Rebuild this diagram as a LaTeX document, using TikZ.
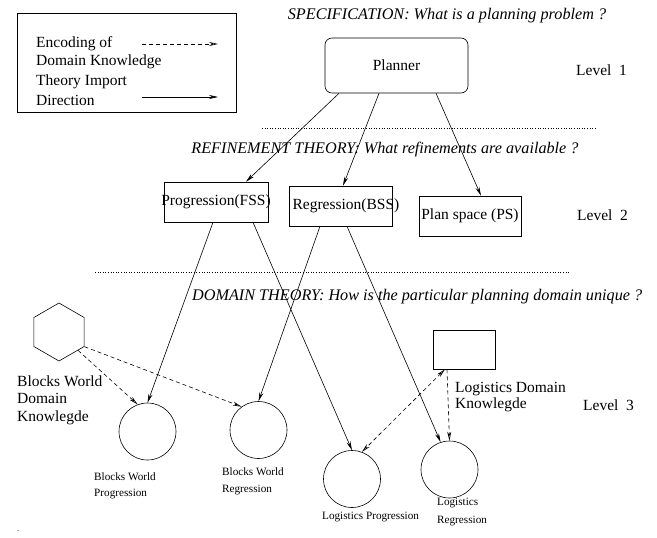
\documentclass[tikz,border=0pt]{standalone}
\usepackage{fontspec}
\setmainfont{Liberation Serif}
\usetikzlibrary{arrows.meta,calc,shapes.geometric}
\begin{document}
\begin{tikzpicture}[x=1pt,y=-1pt,
  big/.style={font=\fontsize{15.5}{18}\selectfont},
  txt/.style={inner sep=0pt},
  small/.style={font=\fontsize{11.2}{16.5}\selectfont, inner sep=0pt},
  ttl/.style={font=\fontsize{16.2}{18}\selectfont\itshape, inner sep=0pt},
  boxn/.style={draw, line width=0.6pt, inner sep=0pt},
  circ/.style={draw, circle, line width=0.6pt, minimum size=57pt, inner sep=0pt},
  imp/.style={line width=0.6pt, -{Stealth[length=9pt,width=4pt,inset=3pt]}},
  enc/.style={line width=0.6pt, dash pattern=on 4pt off 3pt, -{Stealth[length=9pt,width=4pt,open]}},
  encb/.style={line width=0.6pt, dash pattern=on 4pt off 3pt, {Stealth[length=9pt,width=4pt,open]}-{Stealth[length=9pt,width=4pt,open]}},
  sep/.style={line width=0.6pt, dotted},
]
\useasboundingbox (0,0) rectangle (657,538);

% legend
\node[boxn, minimum width=219pt, minimum height=99pt] (legend) at (126.5,62.5) {};
\node[big, txt, anchor=west] (l1) at (36,44) {Encoding of};
\node[big, txt, anchor=west] (l2) at (36,62) {Domain Knowledge};
\node[big, txt, anchor=west] (l3) at (36,82) {Theory Import};
\node[big, txt, anchor=west] (l4) at (36,100) {Direction};
\coordinate (e1) at (142,44); \coordinate (e2) at (218,44);
\draw[enc] (e1) -- (e2);
\coordinate (t1) at (142,97); \coordinate (t2) at (218,97);
\draw[imp] (t1) -- (t2);

% titles
\node[ttl] (spec) at (447,16) {SPECIFICATION: What is a planning problem ?};
\node[ttl] (refn) at (385,150) {REFINEMENT THEORY: What refinements are available ?};
\node[ttl, anchor=west] (domt) at (192,297) {DOMAIN THEORY: How is the particular planning domain unique ?};

% separators
\coordinate (d1a) at (262,128); \coordinate (d1b) at (595,128);
\coordinate (d2a) at (95,272); \coordinate (d2b) at (570,272);
\draw[sep] (d1a) -- (d1b);
\draw[sep] (d2a) -- (d2b);

% level 1
\node[boxn, big, rounded corners=7pt, minimum width=143pt, minimum height=55pt] (planner) at (396.5,65.5) {Planner};
\node[big, txt, anchor=west] (lev1) at (576,70) {Level\ \ 1};

% level 2
\node[boxn, big, minimum width=104pt, minimum height=40pt] (prog) at (216,202) {\makebox[0pt]{Progression(FSS)}};
\node[boxn, big, minimum width=103pt, minimum height=40pt] (regr) at (340.5,206) {\makebox[0pt]{\hspace{11pt}Regression(BSS)}};
\node[boxn, big, minimum width=102pt, minimum height=40pt] (ps) at (470,216) {\makebox[0pt]{Plan space (PS)}};
\node[big, txt, anchor=west] (lev2) at (577,215) {Level\ \ 2};

% level 3
\node[draw, regular polygon, regular polygon sides=6, shape border rotate=30, minimum size=58pt, inner sep=0pt, line width=0.6pt] (hex) at (59,332) {};
\node[txt, anchor=west, align=left, font=\fontsize{15.5}{17.5}\selectfont] (bwdk) at (17,400) {Blocks World\\Domain\\Knowlegde};
\node[circ] (bwp) at (147.5,431.5) {};
\node[circ] (bwr) at (258.5,430) {};
\node[circ] (lgp) at (352,479) {};
\node[circ] (lgr) at (449.5,469.5) {};
\node[small, anchor=west, align=left] (bwpl) at (94,486) {Blocks World\\Progression};
\node[small, anchor=west, align=left] (bwrl) at (222,481.5) {Blocks World\\Regression};
\node[small, anchor=west] (lgpl) at (322,517) {Logistics Progression};
\node[small, anchor=west, align=left, font=\fontsize{11.2}{18}\selectfont] (lgrl) at (437,512) {Logistics\\Regression};
\node[boxn, minimum width=62pt, minimum height=39pt] (lgbox) at (464,349.5) {};
\node[txt, anchor=west, align=left, font=\fontsize{15.5}{16}\selectfont] (lgdk) at (455,397) {Logistics Domain\\Knowlegde};
\node[big, txt, anchor=west] (lev3) at (583,405) {Level\ \ 3};
\node[txt, font=\fontsize{8}{8}\selectfont] (dot) at (18,531) {.};

% theory import arrows
\draw[imp] ($(planner.south)+(-57.5,0)$) -- ($(prog.north)+(30,0)$);
\draw[imp] ($(planner.south)+(-17.5,0)$) -- ($(regr.north)+(2.5,0)$);
\draw[imp] ($(planner.south)+(39.5,0)$) -- ($(ps.north)+(11,0)$);
\draw[imp] ($(prog.south)+(-3,0)$) -- (bwp.north);
\draw[imp] ($(prog.south)+(37,0)$) -- (lgp.north);
\draw[imp] ($(regr.south)+(-20.5,0)$) -- (bwr.north);
\draw[imp] ($(regr.south)+(6.5,0)$) -- (lgr.108);

% domain knowledge encoding arrows
\draw[enc] (hex.-44) -- (bwp.110);
\draw[enc] (hex.-30) -- (bwr.126);
\draw[encb] ($(lgbox.south)+(-19,0)$) -- (lgp.70);
\draw[enc] ($(lgbox.south)+(-17,0)$) -- (lgr.north);
\end{tikzpicture}
\end{document}
